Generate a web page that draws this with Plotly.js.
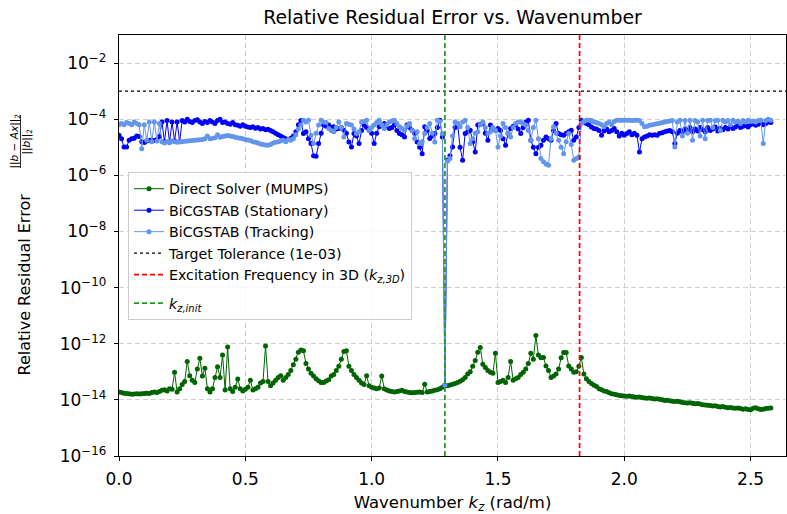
<!DOCTYPE html>
<html><head><meta charset="utf-8">
<script src="https://cdn.plot.ly/plotly-3.0.1.min.js"></script>
<style>html,body{margin:0;padding:0;background:#fff}#chart{width:787px;height:514px}</style>
</head><body><div id="chart"></div>
<script>
// Wavenumber grid (rad/m)
const kz = [
0,0.01,0.02,0.03,0.04,0.05,0.06,0.07,0.08,0.09,
0.10,0.11,0.12,0.13,0.14,0.15,0.16,0.17,0.18,0.19,
0.20,0.21,0.22,0.23,0.24,0.25,0.26,0.27,0.28,0.29,
0.30,0.31,0.32,0.33,0.34,0.35,0.36,0.37,0.38,0.39,
0.40,0.41,0.42,0.43,0.44,0.45,0.46,0.47,0.48,0.49,
0.50,0.51,0.52,0.53,0.54,0.55,0.56,0.57,0.58,0.59,
0.60,0.61,0.62,0.63,0.64,0.65,0.66,0.67,0.68,0.69,
0.70,0.71,0.72,0.73,0.74,0.75,0.76,0.77,0.78,0.79,
0.80,0.81,0.82,0.83,0.84,0.85,0.86,0.87,0.88,0.89,
0.90,0.91,0.92,0.93,0.94,0.95,0.96,0.97,0.98,0.99,
1.00,1.01,1.02,1.03,1.04,1.05,1.06,1.07,1.08,1.09,
1.10,1.11,1.12,1.13,1.14,1.15,1.16,1.17,1.18,1.19,
1.20,1.21,1.22,1.23,1.24,1.25,1.26,1.27,1.28,1.29,
1.30,1.31,1.32,1.33,1.34,1.35,1.36,1.37,1.38,1.39,
1.40,1.41,1.42,1.43,1.44,1.45,1.46,1.47,1.48,1.49,
1.50,1.51,1.52,1.53,1.54,1.55,1.56,1.57,1.58,1.59,
1.60,1.61,1.62,1.63,1.64,1.65,1.66,1.67,1.68,1.69,
1.70,1.71,1.72,1.73,1.74,1.75,1.76,1.77,1.78,1.79,
1.80,1.81,1.82,1.83,1.84,1.85,1.86,1.87,1.88,1.89,
1.90,1.91,1.92,1.93,1.94,1.95,1.96,1.97,1.98,1.99,
2.00,2.01,2.02,2.03,2.04,2.05,2.06,2.07,2.08,2.09,
2.10,2.11,2.12,2.13,2.14,2.15,2.16,2.17,2.18,2.19,
2.20,2.21,2.22,2.23,2.24,2.25,2.26,2.27,2.28,2.29,
2.30,2.31,2.32,2.33,2.34,2.35,2.36,2.37,2.38,2.39,
2.40,2.41,2.42,2.43,2.44,2.45,2.46,2.47,2.48,2.49,
2.50,2.51,2.52,2.53,2.54,2.55,2.56,2.57,2.58
];

// log10 of relative residual error
const directLog10 = [
-13.72,-13.74,-13.76,-13.77,-13.78,-13.80,-13.79,-13.78,-13.79,-13.78,
-13.77,-13.76,-13.77,-13.74,-13.72,-13.74,-13.70,-13.66,-13.64,-13.68,
-13.60,-13.62,-13.02,-13.72,-13.60,-13.45,-13.35,-12.63,-13.14,-13.30,
-13.38,-12.90,-12.52,-13.15,-12.87,-13.60,-13.72,-13.60,-13.20,-12.82,
-13.20,-12.40,-13.65,-12.12,-13.60,-13.70,-13.55,-13.26,-13.60,-13.68,
-13.62,-13.55,-13.30,-13.65,-13.60,-13.55,-13.40,-13.35,-12.08,-13.35,
-13.50,-13.40,-13.30,-13.20,-13.14,-13.30,-13.20,-13.10,-12.95,-12.75,
-12.55,-12.30,-12.22,-12.25,-12.70,-12.90,-13.05,-13.15,-13.25,-13.32,
-13.38,-13.38,-13.33,-13.28,-13.15,-13.10,-12.95,-12.80,-12.55,-12.28,
-12.25,-12.80,-12.95,-13.10,-13.20,-13.30,-13.40,-13.45,-13.14,-13.50,
-13.55,-13.58,-13.60,-13.58,-13.15,-13.60,-13.65,-13.68,-13.70,-13.72,
-13.70,-13.68,-13.66,-13.70,-13.72,-13.74,-13.75,-13.74,-13.73,-13.72,
-13.74,-13.44,-13.72,-13.70,-13.68,-13.66,-13.64,-13.60,-13.55,-13.48,
-13.50,-13.47,-13.44,-13.42,-13.38,-13.34,-13.28,-13.20,-13.08,-13.00,
-12.80,-12.60,-12.30,-12.13,-12.73,-12.85,-12.95,-13.02,-13.05,-12.34,
-13.38,-13.35,-13.30,-13.38,-13.20,-12.63,-13.30,-13.25,-13.20,-13.10,
-13.02,-12.90,-12.70,-12.34,-12.55,-11.71,-12.40,-12.50,-12.49,-12.79,
-12.95,-13.20,-13.15,-13.08,-12.90,-12.50,-12.31,-12.31,-12.79,-12.90,
-13.02,-13.00,-12.80,-12.49,-13.08,-13.25,-13.35,-13.42,-13.48,-13.52,
-13.60,-13.64,-13.68,-13.70,-13.75,-13.78,-13.80,-13.82,-13.84,-13.85,
-13.86,-13.87,-13.86,-13.88,-13.90,-13.91,-13.90,-13.92,-13.93,-13.94,
-13.93,-13.95,-13.97,-13.96,-13.98,-14.00,-14.02,-14.01,-14.03,-14.05,
-14.06,-14.05,-14.07,-14.09,-14.10,-14.11,-14.10,-14.12,-14.14,-14.13,
-14.15,-14.17,-14.18,-14.19,-14.20,-14.22,-14.21,-14.24,-14.25,-14.24,
-14.26,-14.28,-14.27,-14.29,-14.30,-14.29,-14.31,-14.33,-14.32,-14.34,
-14.35,-14.30,-14.28,-14.32,-14.34,-14.33,-14.31,-14.30,-14.29
];

const stationaryLog10 = [
-4.57,-4.70,-4.99,-4.99,-4.75,-4.70,-4.68,-4.60,-4.62,-4.80,
-4.83,-4.78,-4.75,-4.75,-4.76,-4.72,-4.62,-4.10,-4.80,-4.05,
-4.82,-4.10,-4.78,-4.10,-4.80,-4.05,-4.10,-4.00,-4.08,-4.12,
-4.05,-4.02,-4.10,-4.15,-4.08,-4.12,-4.05,-4.10,-4.15,-4.05,
-4.00,-4.12,-4.10,-4.15,-4.18,-4.12,-4.20,-4.22,-4.25,-4.20,
-4.25,-4.28,-4.30,-4.27,-4.32,-4.30,-4.35,-4.33,-4.38,-4.36,
-4.40,-4.45,-4.50,-4.55,-4.60,-4.65,-4.70,-4.72,-4.68,-4.60,
-4.45,-4.20,-4.05,-4.51,-4.45,-4.70,-4.87,-5.30,-5.32,-4.87,
-4.50,-4.21,-4.25,-4.21,-4.30,-4.27,-4.35,-4.33,-4.30,-4.39,
-4.50,-4.81,-4.99,-4.51,-4.60,-4.87,-4.40,-4.21,-4.30,-4.39,
-4.50,-4.87,-4.50,-4.27,-4.20,-4.15,-4.25,-4.33,-4.30,-4.21,
-4.40,-4.51,-4.55,-4.63,-4.21,-4.30,-4.39,-4.50,-4.81,-5.00,
-5.23,-4.27,-4.40,-4.69,-4.60,-4.51,-4.30,-4.04,-4.63,-13.48,
-5.45,-5.30,-4.99,-4.30,-4.15,-5.00,-5.46,-4.51,-4.45,-4.39,
-4.80,-5.17,-4.21,-4.18,-4.15,-4.50,-4.75,-4.21,-4.35,-4.39,
-4.33,-4.40,-4.70,-4.93,-4.50,-4.33,-4.25,-4.21,-4.35,-4.51,
-4.30,-4.10,-4.04,-4.75,-5.00,-5.23,-5.00,-4.93,-4.75,-4.63,
-4.70,-4.75,-4.40,-4.15,-4.51,-4.55,-4.57,-4.50,-4.45,-4.39,
-4.75,-4.63,-4.30,-4.04,-4.10,-4.15,-4.20,-4.28,-4.33,-4.35,
-4.40,-4.57,-4.42,-4.35,-4.45,-4.40,-4.33,-4.45,-4.60,-4.50,
-4.57,-4.51,-4.45,-4.55,-4.50,-4.57,-5.17,-4.70,-4.63,-4.60,
-4.55,-4.57,-4.55,-4.57,-4.50,-4.48,-4.45,-4.42,-4.40,-4.45,
-4.87,-4.50,-4.40,-4.45,-4.35,-4.40,-4.30,-4.45,-4.35,-4.42,
-4.30,-4.38,-4.45,-4.30,-4.40,-4.35,-4.28,-4.42,-4.32,-4.38,
-4.30,-4.35,-4.25,-4.33,-4.28,-4.20,-4.30,-4.25,-4.22,-4.28,
-4.20,-4.15,-4.22,-4.18,-4.12,-4.20,-4.15,-4.10,-4.12
];

const trackingLog10 = [
-4.20,-4.15,-4.20,-4.12,-4.15,-4.20,-4.10,-4.15,-4.20,-5.05,
-4.20,-4.75,-4.10,-4.80,-4.10,-4.78,-4.15,-4.80,-4.85,-4.80,
-4.82,-4.78,-4.80,-4.82,-4.80,-4.80,-4.79,-4.78,-4.77,-4.76,
-4.75,-4.74,-4.73,-4.72,-4.70,-4.60,-4.70,-4.68,-4.66,-4.55,
-4.64,-4.62,-4.60,-4.58,-4.60,-4.62,-4.64,-4.66,-4.68,-4.70,
-4.72,-4.74,-4.76,-4.80,-4.82,-4.85,-4.88,-4.90,-4.92,-4.93,
-4.90,-4.85,-4.82,-4.80,-4.78,-4.75,-4.80,-4.72,-4.75,-4.70,
-4.55,-4.35,-4.21,-4.04,-4.10,-4.04,-4.57,-4.87,-4.50,-4.21,
-4.04,-4.10,-4.12,-4.33,-4.40,-4.45,-4.30,-4.10,-4.30,-4.63,
-4.15,-4.18,-4.21,-4.35,-4.51,-4.45,-4.10,-4.08,-4.04,-4.39,
-4.30,-4.21,-4.12,-4.04,-4.20,-4.33,-4.20,-4.10,-4.06,-4.04,
-4.15,-4.27,-4.33,-4.39,-4.25,-4.15,-4.40,-4.69,-4.45,-4.87,
-4.80,-4.51,-4.30,-4.15,-4.50,-4.81,-4.04,-4.08,-4.51,-13.48,
-5.50,-5.40,-4.60,-4.10,-4.15,-4.27,-4.10,-4.04,-4.30,-4.87,
-4.70,-4.50,-4.45,-4.20,-4.10,-4.30,-4.51,-4.45,-4.30,-4.39,
-4.99,-4.60,-4.15,-4.30,-4.50,-4.63,-4.30,-4.15,-4.10,-4.10,
-4.15,-4.21,-4.40,-4.75,-4.30,-4.04,-4.70,-5.40,-5.52,-5.60,
-5.64,-4.70,-4.27,-4.50,-4.75,-5.00,-5.23,-4.80,-4.51,-4.90,
-5.46,-5.40,-5.35,-4.15,-4.08,-4.04,-4.04,-4.05,-4.10,-4.12,
-4.15,-4.20,-4.27,-4.15,-4.10,-4.20,-4.08,-4.04,-4.04,-4.04,
-4.04,-4.04,-4.04,-4.05,-4.04,-4.04,-4.05,-4.15,-4.27,-4.25,
-4.22,-4.20,-4.18,-4.16,-4.14,-4.12,-4.10,-4.08,-4.06,-4.05,
-4.99,-4.10,-4.04,-4.60,-4.05,-4.50,-4.04,-4.75,-4.05,-4.10,
-4.60,-4.04,-4.70,-4.05,-4.04,-4.30,-4.05,-4.04,-4.40,-4.04,
-4.10,-4.05,-4.20,-4.04,-4.10,-4.06,-4.15,-4.05,-4.10,-4.04,
-4.08,-4.06,-4.10,-4.05,-4.04,-4.87,-4.05,-4.00,-4.04
];

const targetTolerance = 1e-3;
const kz3D = 1.823;
const kzInit = 1.29;
const xRange = [0, 2.64];
const yExpRange = [-16, -1];
const xTickVals = [0, 0.5, 1.0, 1.5, 2.0, 2.5];
const yTickVals = [1e-16, 1e-14, 1e-12, 1e-10, 1e-8, 1e-6, 1e-4, 1e-2];
const yTickText = ['10<sup>−16</sup>','10<sup>−14</sup>','10<sup>−12</sup>','10<sup>−10</sup>','10<sup>−8</sup>','10<sup>−6</sup>','10<sup>−4</sup>','10<sup>−2</sup>'];
const seriesNames = ['Direct Solver (MUMPS)', 'BiCGSTAB (Stationary)', 'BiCGSTAB (Tracking)',
  'Target Tolerance (1e-03)', 'Excitation Frequency in 3D (<i>k</i><sub><i>z,3D</i></sub>)', '<i>k</i><sub><i>z,init</i></sub>'];

const toVal = a => a.map(v => Math.pow(10, v));
const yBottom = Math.pow(10, yExpRange[0]);
const yTop = Math.pow(10, yExpRange[1]);

const FONT = 'DejaVu Sans, Verdana, sans-serif';

const traces = [
  {x: kz, y: toVal(directLog10), name: seriesNames[0], mode: 'lines+markers', type: 'scatter', legendgroup: 'a',
   line: {color: '#006400', width: 1}, marker: {color: '#006400', size: 5}},
  {x: kz, y: toVal(stationaryLog10), name: seriesNames[1], mode: 'lines+markers', type: 'scatter', legendgroup: 'a',
   line: {color: '#0000ff', width: 1}, marker: {color: '#0000ff', size: 5}},
  {x: kz, y: toVal(trackingLog10), name: seriesNames[2], mode: 'lines+markers', type: 'scatter', legendgroup: 'a',
   line: {color: '#6495ed', width: 1}, marker: {color: '#6495ed', size: 5}},
  {x: xRange, y: [targetTolerance, targetTolerance], name: seriesNames[3], mode: 'lines', type: 'scatter', legendgroup: 'a',
   line: {color: '#000000', width: 1.3, dash: 'dot'}},
  {x: [kz3D, kz3D], y: [yBottom, yTop], name: seriesNames[4], mode: 'lines', type: 'scatter', legendgroup: 'a',
   line: {color: '#ff0000', width: 1.7, dash: '5px,3px'}},
  {x: [kzInit, kzInit], y: [yBottom, yTop], name: seriesNames[5], mode: 'lines', type: 'scatter', legendgroup: 'b',
   line: {color: '#1f9a1f', width: 1.7, dash: '5px,3px'}}
];

const W = 787, H = 514, L = 119, R = 1, T = 35, B = 58;
const pw = W - L - R, ph = H - T - B;
const px2x = p => (p - L) / pw;
const px2y = p => (H - B - p) / ph;

const layout = {
  width: W, height: H,
  margin: {l: L, r: R, t: T, b: B},
  paper_bgcolor: '#fff', plot_bgcolor: '#fff',
  font: {family: FONT, size: 15, color: '#000'},
  title: {text: 'Relative Residual Error vs. Wavenumber', font: {family: FONT, size: 18.9, color: '#000'},
          xref: 'paper', x: 0.5, xanchor: 'center', yref: 'container', y: 1 - 17/H, yanchor: 'middle'},
  showlegend: true,
  legend: {x: px2x(128), y: px2y(172), xanchor: 'left', yanchor: 'top', traceorder: 'grouped', tracegroupgap: 7,
           bgcolor: 'rgba(255,255,255,0.8)', bordercolor: '#cccccc', borderwidth: 1,
           font: {family: FONT, size: 14.2, color: '#000'}},
  xaxis: {range: xRange, tickvals: xTickVals, tickformat: '.1f',
          showline: true, mirror: true, linecolor: '#000', linewidth: 1.2,
          ticks: 'outside', ticklen: 4, tickcolor: '#000', tickwidth: 1, ticklabelstandoff: 3,
          showgrid: true, gridcolor: '#cfcfcf', griddash: '5px,3px', gridwidth: 1, zeroline: false,
          tickfont: {family: FONT, size: 17, color: '#000'},
          title: {text: 'Wavenumber <i>k</i><sub><i>z</i></sub> (rad/m)', font: {family: FONT, size: 16.5, color: '#000'}, standoff: 15}},
  yaxis: {type: 'log', range: yExpRange, tickvals: yTickVals, ticktext: yTickText,
          showline: true, mirror: true, linecolor: '#000', linewidth: 1.2,
          ticks: 'outside', ticklen: 4, tickcolor: '#000', tickwidth: 1, ticklabelstandoff: 4,
          showgrid: true, gridcolor: '#cfcfcf', griddash: '5px,3px', gridwidth: 1, zeroline: false,
          tickfont: {family: FONT, size: 17, color: '#000'}},
  annotations: [
    {text: 'Relative Residual Error', textangle: -90, xref: 'paper', yref: 'paper',
     x: px2x(24), y: px2y(284.5), xanchor: 'center', yanchor: 'middle', showarrow: false,
     font: {family: FONT, size: 16, color: '#000'}},
    {text: '||<i>b</i> − <i>Ax</i>||<sub>2</sub>', textangle: -90, xref: 'paper', yref: 'paper',
     x: px2x(14), y: px2y(141.5), xanchor: 'center', yanchor: 'middle', showarrow: false,
     font: {family: FONT, size: 10.5, color: '#000'}},
    {text: '||<i>b</i>||<sub>2</sub>', textangle: -90, xref: 'paper', yref: 'paper',
     x: px2x(26.5), y: px2y(142), xanchor: 'center', yanchor: 'middle', showarrow: false,
     font: {family: FONT, size: 10.5, color: '#000'}}
  ],
  shapes: [
    {type: 'line', xref: 'paper', yref: 'paper', x0: px2x(20.5), x1: px2x(20.5), y0: px2y(168), y1: px2y(115),
     line: {color: '#000', width: 0.8}}
  ]
};

Plotly.newPlot('chart', traces, layout, {displayModeBar: false, staticPlot: true});
</script>
</body></html>
